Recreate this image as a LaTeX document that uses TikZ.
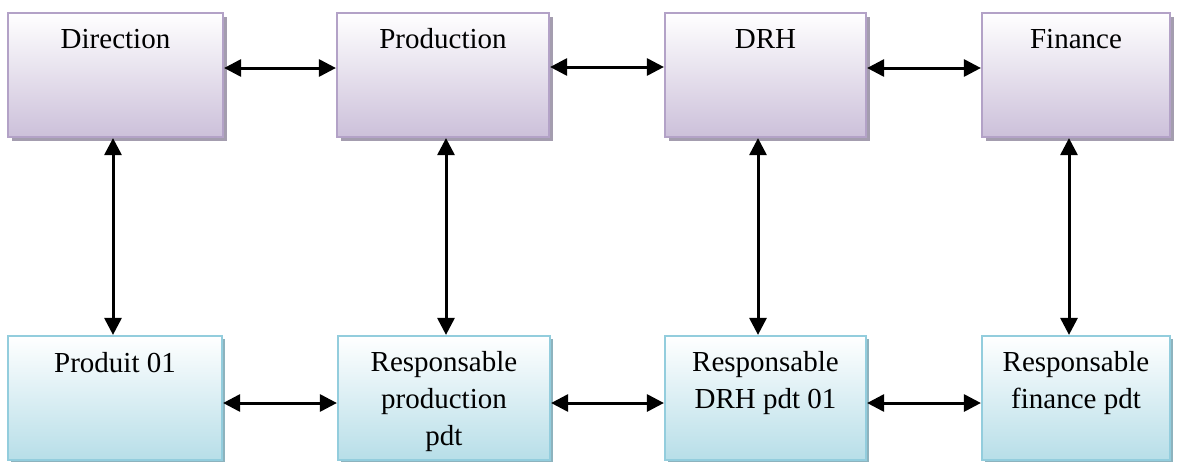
\documentclass[tikz,border=0pt]{standalone}
\usepackage{fontspec}
\setmainfont{Liberation Serif}
\usetikzlibrary{arrows.meta,shadows}
\definecolor{lilacB}{HTML}{B3A2C7}
\definecolor{lilacF}{HTML}{CCC0DA}
\definecolor{lilacS}{HTML}{A49DAF}
\definecolor{aquaB}{HTML}{93CDDD}
\definecolor{aquaF}{HTML}{B7DEE8}
\definecolor{aquaS}{HTML}{8DB3BE}
\tikzset{
  topbox/.style={rectangle, draw=lilacB, line width=2.2pt, top color=white, bottom color=lilacF,
    minimum height=124pt, inner sep=0pt,
    general shadow={fill=lilacS, shadow xshift=4pt, shadow yshift=-4pt}},
  botbox/.style={rectangle, draw=aquaB, line width=2.2pt, top color=white, bottom color=aquaF,
    minimum height=124pt, inner sep=0pt,
    general shadow={fill=aquaS, shadow xshift=3pt, shadow yshift=-3pt}},
  lbl/.style={anchor=base, align=center, font=\fontsize{29}{37}\selectfont, inner sep=0pt},
  link/.style={{Triangle[length=17pt,width=17pt]}-{Triangle[length=17pt,width=17pt]}, line width=3pt, black},
}
\begin{document}
\begin{tikzpicture}[x=1pt,y=-1pt]
\useasboundingbox (0,0) rectangle (1179,461);
% top row
\node[topbox, minimum width=215pt] (dir) at (115.5,75) {};
\node[topbox, minimum width=212pt] (prod) at (443,75) {};
\node[topbox, minimum width=201pt] (drh) at (765.5,75) {};
\node[topbox, minimum width=188pt] (fin) at (1076,75) {};
% bottom row
\node[botbox, minimum width=214pt] (p01) at (115,398) {};
\node[botbox, minimum width=212pt] (rprod) at (444,398) {};
\node[botbox, minimum width=201pt] (rdrh) at (765.5,398) {};
\node[botbox, minimum width=188pt] (rfin) at (1076,398) {};
% labels
\node[lbl] (tdir) at ([yshift=-37pt]dir.north) {Direction};
\node[lbl] (tprod) at ([yshift=-37pt]prod.north) {Production};
\node[lbl] (tdrh) at ([yshift=-37pt]drh.north) {DRH};
\node[lbl] (tfin) at ([yshift=-37pt]fin.north) {Finance};
\node[lbl] (tp01) at ([yshift=-38pt]p01.north) {Produit 01};
\node[lbl, anchor=north] (trprod) at ([yshift=-16pt]rprod.north) {Responsable\\production\\pdt};
\node[lbl, anchor=north] (trdrh) at ([yshift=-16pt]rdrh.north) {Responsable\\DRH pdt 01};
\node[lbl, anchor=north] (trfin) at ([yshift=-16pt]rfin.north) {Responsable\\finance pdt};
% horizontal connectors
\draw[link] ([yshift=7pt]dir.east) -- ([yshift=7pt]prod.west);
\draw[link] ([yshift=8pt]prod.east) -- ([yshift=8pt]drh.west);
\draw[link] ([yshift=7pt]drh.east) -- ([yshift=7pt]fin.west);
\draw[link] ([yshift=-5pt]p01.east) -- ([yshift=-5pt]rprod.west);
\draw[link] ([yshift=-5pt]rprod.east) -- ([yshift=-5pt]rdrh.west);
\draw[link] ([yshift=-5pt]rdrh.east) -- ([yshift=-5pt]rfin.west);
% vertical connectors
\draw[link] ([xshift=-2.5pt]dir.south) -- ([xshift=-2.5pt]dir.south |- p01.north);
\draw[link] ([xshift=3pt]prod.south) -- ([xshift=3pt]prod.south |- rprod.north);
\draw[link] ([xshift=-7.5pt]drh.south) -- ([xshift=-7.5pt]drh.south |- rdrh.north);
\draw[link] ([xshift=-7pt]fin.south) -- ([xshift=-7pt]fin.south |- rfin.north);
\end{tikzpicture}
\end{document}
